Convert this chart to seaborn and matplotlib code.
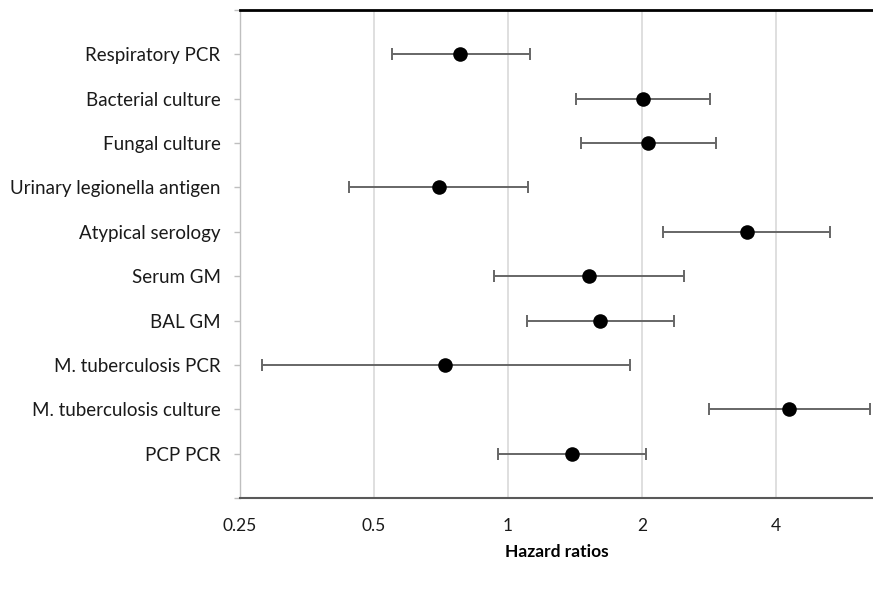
import numpy as np
import pandas as pd
import matplotlib
matplotlib.use("Agg")
import matplotlib.pyplot as plt
from matplotlib.ticker import FixedLocator, FixedFormatter, NullFormatter
import seaborn as sns

# Tests and their hazard ratios with 95% CI
tests = ["Respiratory PCR", "Bacterial culture", "Fungal culture",
         "Urinary legionella antigen", "Atypical serology", "Serum GM",
         "BAL GM", "M. tuberculosis PCR", "M. tuberculosis culture", "PCP PCR"]
hr = [0.78, 2.01, 2.06, 0.70, 3.44, 1.52, 1.61, 0.72, 4.28, 1.39]
ci_low = [0.55, 1.42, 1.46, 0.44, 2.23, 0.93, 1.10, 0.28, 2.83, 0.95]
ci_high = [1.12, 2.84, 2.93, 1.11, 5.29, 2.49, 2.36, 1.88, 6.5, 2.04]
x_ticks = [0.25, 0.5, 1, 2, 4]
x_tick_labels = ["0.25", "0.5", "1", "2", "4"]

df = pd.DataFrame({"test": tests, "hr": hr, "lo": ci_low, "hi": ci_high})

sns.set_style("white")
plt.rcParams["font.family"] = ["Lato", "DejaVu Sans"]

fig = plt.figure(figsize=(8.73, 5.9), dpi=100)
ax = fig.add_axes([240 / 873, 1 - 498 / 590, 633 / 873, 488 / 590])

ax.set_xscale("log", base=2)

# confidence intervals
ypos = np.arange(len(tests))
ax.errorbar(df["hr"], ypos,
            xerr=[df["hr"] - df["lo"], df["hi"] - df["hr"]],
            fmt="none", ecolor="#666666", elinewidth=1.4, capsize=4.5,
            capthick=1.4, zorder=2)

# point estimates
sns.scatterplot(data=df, x="hr", y="test", ax=ax, color="black", s=110,
                edgecolor="black", linewidth=0, zorder=3, legend=False)

ax.set_xlim(0.25, 6.6)
ax.set_ylim(len(tests), -1)

ax.xaxis.set_major_locator(FixedLocator(x_ticks))
ax.xaxis.set_major_formatter(FixedFormatter(x_tick_labels))
ax.xaxis.set_minor_formatter(NullFormatter())
ax.xaxis.set_minor_locator(FixedLocator([]))
ax.grid(axis="x", color="#d9d9d9", linewidth=1.2)
ax.grid(axis="y", visible=False)
ax.set_axisbelow(True)

ax.set_yticks(ypos)
ax.set_yticklabels(tests)
ax.yaxis.set_minor_locator(FixedLocator([-1, len(tests)]))
ax.tick_params(axis="y", which="both", left=True, length=4, width=1,
               color="#bfbfbf", labelsize=13.5, pad=10, labelcolor="#1a1a1a")
ax.tick_params(axis="x", bottom=False, labelsize=12.5, pad=11,
               labelcolor="#1a1a1a")

ax.spines["top"].set_color("black")
ax.spines["top"].set_linewidth(2)
ax.spines["left"].set_color("#bfbfbf")
ax.spines["left"].set_linewidth(1)
ax.spines["bottom"].set_color("#595959")
ax.spines["bottom"].set_linewidth(1.5)
ax.spines["right"].set_visible(False)

ax.set_ylabel("")
ax.set_xlabel("Hazard ratios", fontsize=12.5, fontweight="bold", labelpad=7,
              color="black")

fig.savefig("out.png", dpi=100)
